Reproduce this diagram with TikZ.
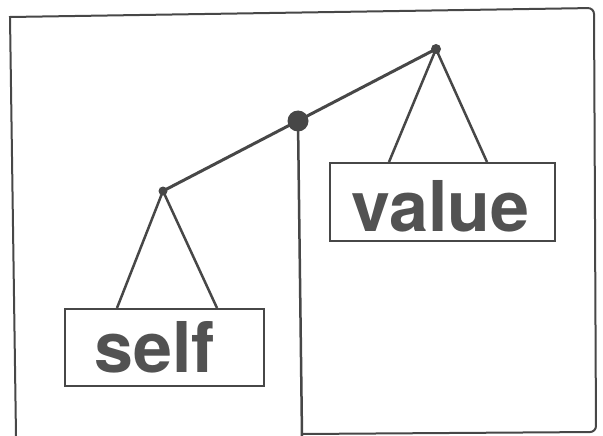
\documentclass[tikz,border=0pt]{standalone}
\usepackage{fontspec}
\usepackage{tikz}
\newfontfamily\signfont{TeX Gyre Heros}
\usetikzlibrary{positioning, calc}

\begin{document}
\begin{tikzpicture}[x=1pt, y=-1pt,
    ink/.style={color=black!72},
    tag/.style={draw, ink, line width=2pt, minimum width=199pt, minimum height=77pt, inner sep=0pt},
    word/.style={text=black!68, font=\signfont\bfseries\fontsize{70}{70}\selectfont, inner sep=0pt},
    hinge/.style={circle, fill=black!72, inner sep=0pt}]
    \useasboundingbox (0,0) rectangle (603,436);

    % Frame
    \draw[ink, line width=2pt] (16,436) -- (10,17) [rounded corners=6pt] -- (594,8) -- (596,432) -- (302,434);

    % Hinges of the balance
    \node[hinge, minimum size=21pt] (pivot) at (298,121) {};
    \node[hinge, minimum size=9pt] (ldot) at (163,191) {};
    \node[hinge, minimum size=10pt] (rdot) at (436,49) {};
    \coordinate (base) at (302,436);

    % Signs
    \node[tag] (selfbox) at (164.5,347.5) {};
    \node[tag, minimum width=225pt, minimum height=78pt] (valuebox) at (442.5,202) {};
    \node[word] (selfword) at ([xshift=-10pt]selfbox.center) {self};
    \node[word] (valueword) at ([xshift=-2pt, yshift=-4pt]valuebox.center) {value};

    % Beam and post
    \draw[ink, line width=3pt] (ldot.center) -- (rdot.center);
    \draw[ink, line width=2.5pt] (pivot.center) -- (base);

    % Hangers
    \draw[ink, line width=2.5pt] ([xshift=53pt]selfbox.north west) -- (ldot.center) -- ([xshift=153pt]selfbox.north west);
    \draw[ink, line width=2.5pt] ([xshift=60pt]valuebox.north west) -- (rdot.center) -- ([xshift=158pt]valuebox.north west);
\end{tikzpicture}
\end{document}
